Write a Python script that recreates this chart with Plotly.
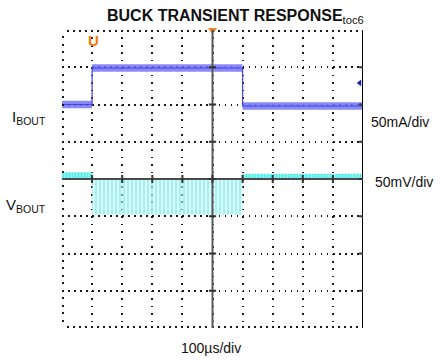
import plotly.graph_objects as go

# Scope settings
T_DIV_US = 100          # µs/div
I_SCALE_MA = 50         # mA/div
V_SCALE_MV = 50         # mV/div
I_OFFSET_DIV = 2        # channel position of I_BOUT
V_OFFSET_DIV = 0        # channel position of V_BOUT
X_RANGE_US = [-500, 500]
Y_RANGE_DIV = [-4, 4]

# Load current step (mA, relative to channel position)
i_time_us = [-500, -400, -400, 100, 100, 500]
i_bout_ma = [0, 0, 49, 49, -2, -2]
i_noise_ma = 5

# Output voltage, quiet segments (mV)
v_quiet_time_us = [[-500, -400], [100, 500]]
v_quiet_mv = [5, 3]
v_noise_mv = 4

# Output voltage ripple envelope while loaded (mV)
v_ripple_time_us = [-400, 100]
v_ripple_hi_mv = 0
v_ripple_lo_mv = -48

# Marker positions
trig_time_us = 0
trig_level_ma = 29
trig_marker_time_us = -395

FONT = "Arial, Liberation Sans, sans-serif"


def to_div(value, scale, offset):
    return value / scale + offset


def band(xs, hi, lo):
    """Closed polygon between an upper and a lower envelope."""
    return list(xs) + list(xs)[::-1], list(hi) + list(lo)[::-1]


fig = go.Figure()

# V_BOUT quiet segments
for seg, lvl in zip(v_quiet_time_us, v_quiet_mv):
    hi = [to_div(lvl + v_noise_mv, V_SCALE_MV, V_OFFSET_DIV)] * 2
    lo = [to_div(lvl - v_noise_mv, V_SCALE_MV, V_OFFSET_DIV)] * 2
    bx, by = band(seg, hi, lo)
    fig.add_trace(go.Scatter(
        x=bx, y=by, mode="lines", fill="toself",
        fillpattern=dict(shape="|", fgcolor="#1cdcdc", bgcolor="rgba(110,242,242,0.8)",
                         size=3, solidity=0.45),
        line=dict(width=0), hoverinfo="skip", showlegend=False))

# V_BOUT ripple during load
rhi = [to_div(v_ripple_hi_mv, V_SCALE_MV, V_OFFSET_DIV)] * 2
rlo = [to_div(v_ripple_lo_mv, V_SCALE_MV, V_OFFSET_DIV)] * 2
bx, by = band(v_ripple_time_us, rhi, rlo)
fig.add_trace(go.Scatter(
    x=bx, y=by, mode="lines", fill="toself",
    fillpattern=dict(shape="|", fgcolor="#55eeee", bgcolor="rgba(205,252,252,0.55)",
                     size=4, solidity=0.5),
    line=dict(width=0), hoverinfo="skip", showlegend=False))

# I_BOUT trace
i_hi = [to_div(v + i_noise_ma, I_SCALE_MA, I_OFFSET_DIV) for v in i_bout_ma]
i_lo = [to_div(v - i_noise_ma, I_SCALE_MA, I_OFFSET_DIV) for v in i_bout_ma]
bx, by = band(i_time_us, i_hi, i_lo)
fig.add_trace(go.Scatter(
    x=bx, y=by, mode="lines", fill="toself",
    fillpattern=dict(shape="|", fgcolor="#4c4cee", bgcolor="rgba(135,135,248,0.8)",
                     size=2, solidity=0.5),
    line=dict(width=0), hoverinfo="skip", showlegend=False))
fig.add_trace(go.Scatter(
    x=i_time_us, y=[to_div(v, I_SCALE_MA, I_OFFSET_DIV) for v in i_bout_ma],
    mode="lines", line=dict(color="#4242e6", width=1.2),
    hoverinfo="skip", showlegend=False))

# Trigger position marker (drawn on the top time axis)
fig.add_trace(go.Scatter(
    x=[trig_time_us], y=[Y_RANGE_DIV[1]], mode="markers", xaxis="x2",
    marker=dict(symbol="triangle-down", size=8, color="#f58220"),
    cliponaxis=False, hoverinfo="skip", showlegend=False))
# Trigger level marker
fig.add_trace(go.Scatter(
    x=[X_RANGE_US[1] - 11], y=[to_div(trig_level_ma, I_SCALE_MA, I_OFFSET_DIV)],
    mode="markers",
    marker=dict(symbol="triangle-left", size=6, color="#1f1fb4"),
    cliponaxis=False, hoverinfo="skip", showlegend=False))

# Center cross and right edge
shapes = [
    dict(type="line", x0=0, x1=0, y0=Y_RANGE_DIV[0], y1=Y_RANGE_DIV[1],
         line=dict(color="#5a5a5a", width=2)),
    dict(type="line", x0=X_RANGE_US[0], x1=X_RANGE_US[1], y0=0, y1=0,
         line=dict(color="#4a4a4a", width=2)),
    dict(type="line", x0=X_RANGE_US[1], x1=X_RANGE_US[1],
         y0=Y_RANGE_DIV[0], y1=Y_RANGE_DIV[1],
         line=dict(color="#000000", width=2)),
]
x_major = list(range(X_RANGE_US[0] + T_DIV_US, X_RANGE_US[1], T_DIV_US))
y_major = list(range(Y_RANGE_DIV[0] + 1, Y_RANGE_DIV[1]))
for t in x_major:
    shapes.append(dict(type="line", x0=t, x1=t, y0=-0.11, y1=0.11,
                       line=dict(color="#333333", width=2)))
for d in y_major:
    shapes.append(dict(type="line", x0=-12, x1=12, y0=d, y1=d,
                       line=dict(color="#333333", width=2)))
    shapes.append(dict(type="line", x0=X_RANGE_US[1] - 13, x1=X_RANGE_US[1],
                       y0=d, y1=d, line=dict(color="#333333", width=2)))

annotations = [
    dict(text="<b>BUCK TRANSIENT RESPONSE</b><sub>toc6</sub>", xref="paper", yref="paper",
         x=0.575, y=1.044, xanchor="center", yanchor="middle", showarrow=False,
         font=dict(family=FONT, size=16, color="#111111")),
    dict(text="I<sub>BOUT</sub>", xref="paper", yref="y", x=-0.045, y=1.65,
         xanchor="right", yanchor="middle", showarrow=False,
         font=dict(family=FONT, size=15, color="#111111")),
    dict(text="V<sub>BOUT</sub>", xref="paper", yref="y", x=-0.045, y=-0.7,
         xanchor="right", yanchor="middle", showarrow=False,
         font=dict(family=FONT, size=15, color="#111111")),
    dict(text="50mA/div", xref="paper", yref="y", x=1.02, y=1.52,
         xanchor="left", yanchor="middle", showarrow=False,
         font=dict(family=FONT, size=14, color="#111111")),
    dict(text="50mV/div", xref="paper", yref="y", x=1.033, y=-0.08,
         xanchor="left", yanchor="middle", showarrow=False,
         font=dict(family=FONT, size=14, color="#111111")),
    dict(text="100µs/div", xref="x", yref="paper", x=-5, y=-0.067,
         xanchor="center", yanchor="middle", showarrow=False,
         font=dict(family=FONT, size=14, color="#111111")),
    dict(text="<b>U</b>", xref="x", yref="y", x=trig_marker_time_us, y=3.72,
         xanchor="center", yanchor="middle", showarrow=False,
         font=dict(family=FONT, size=15, color="#f07a10")),
]

edge_minor = dict(dtick=T_DIV_US / 5, tick0=0, ticks="inside", ticklen=2,
                  tickcolor="#1a1a1a", tickwidth=1.6, showgrid=False)

fig.update_layout(
    width=440, height=360,
    margin=dict(l=62, r=77, t=30, b=32),
    paper_bgcolor="white", plot_bgcolor="white",
    shapes=shapes, annotations=annotations, showlegend=False,
    xaxis=dict(
        range=X_RANGE_US, tickmode="array", tickvals=x_major, showticklabels=False,
        showgrid=True, gridcolor="#1a1a1a", gridwidth=1.6, griddash="1.6px,5.85px",
        zeroline=False, showline=False, ticks="inside", ticklen=0.01,
        tickcolor="rgba(0,0,0,0)", minor=edge_minor,
    ),
    xaxis2=dict(
        range=X_RANGE_US, overlaying="x", side="top", anchor="y",
        tickmode="array", tickvals=x_major, showticklabels=False,
        showgrid=False, zeroline=False, showline=False, ticks="inside",
        ticklen=0.01, tickcolor="rgba(0,0,0,0)", minor=edge_minor,
    ),
    yaxis=dict(
        range=Y_RANGE_DIV, tickmode="array", tickvals=y_major, showticklabels=False,
        showgrid=True, gridcolor="#1a1a1a", gridwidth=1.6, griddash="1.6px,4.42px",
        zeroline=False, showline=False, ticks="inside", ticklen=0.01,
        tickcolor="rgba(0,0,0,0)",
        minor=dict(dtick=0.2, tick0=0, ticks="inside", ticklen=2,
                   tickcolor="#1a1a1a", tickwidth=1.6, showgrid=False),
    ),
)

fig.write_html("out.html")
